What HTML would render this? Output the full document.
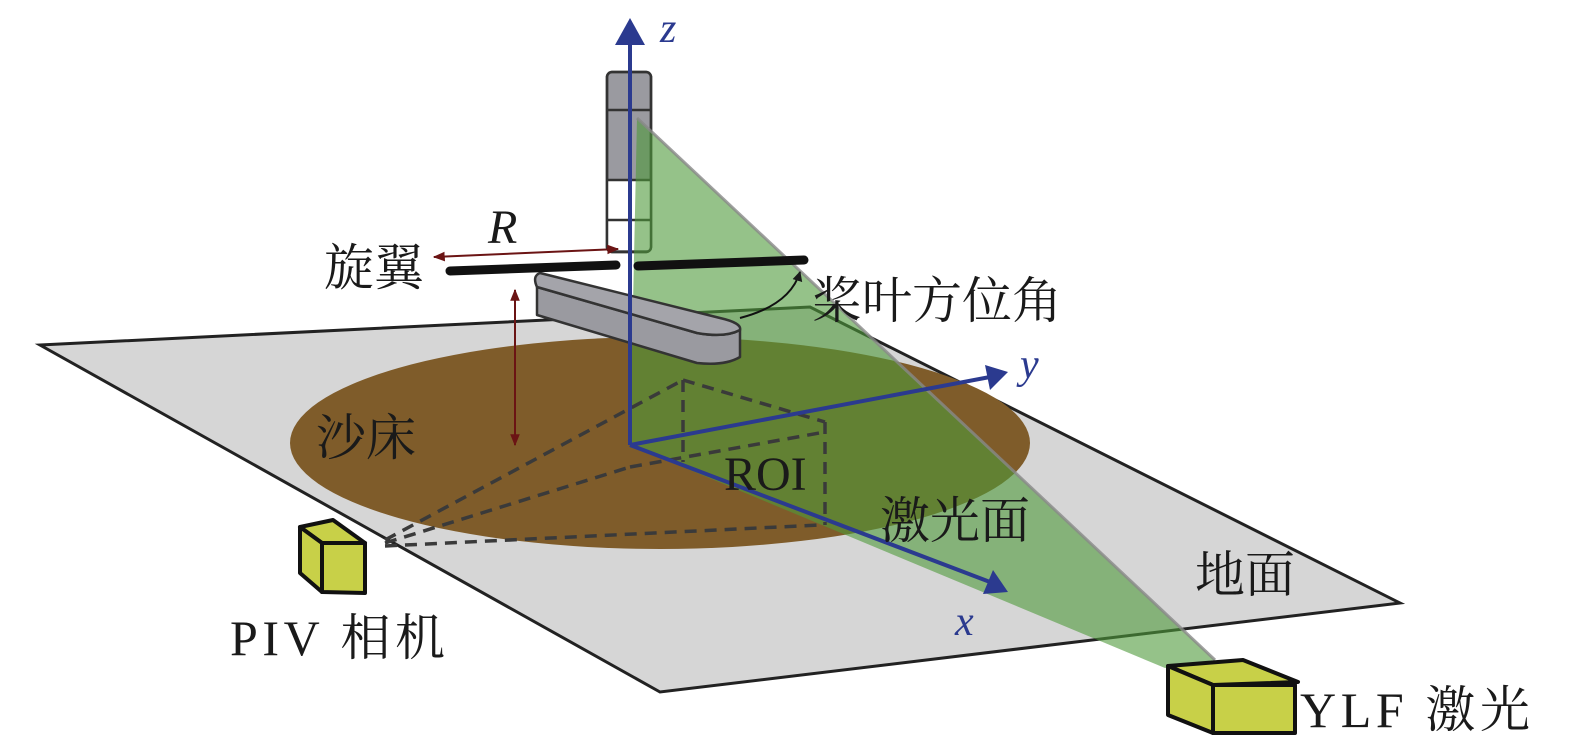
<!DOCTYPE html>
<html><head><meta charset="utf-8"><style>
html,body{margin:0;padding:0;background:#fff;width:1575px;height:738px;overflow:hidden}
text{font-family:"Liberation Serif","Noto Serif CJK SC",serif;fill:#1a1a1a}
</style></head><body>
<svg width="1575" height="738" viewBox="0 0 1575 738" xmlns="http://www.w3.org/2000/svg">
<defs>
<marker id="ar" viewBox="0 0 10 10" refX="9" refY="5" markerWidth="6" markerHeight="6" orient="auto-start-reverse"><path d="M0,1 L10,5 L0,9 z" fill="#6b1414"/></marker>
<marker id="ab" viewBox="0 0 10 10" refX="9" refY="5" markerWidth="5" markerHeight="5" orient="auto"><path d="M0,0 L10,5 L0,10 z" fill="#1a1a1a"/></marker>
</defs>
<polygon points="40,345 810,307 1400,603 660,692" fill="#d6d6d6" stroke="#222" stroke-width="3"/>
<ellipse cx="660" cy="443" rx="370" ry="106" fill="#7f5c2a"/>
<rect x="607" y="72" width="44" height="180" rx="5" fill="#9a9aa0" stroke="#333" stroke-width="2.5"/>
<rect x="608" y="180" width="42" height="70" fill="#fff"/>
<rect x="607" y="72" width="44" height="180" rx="5" fill="none" stroke="#333" stroke-width="2.5"/>
<line x1="607" y1="110" x2="651" y2="110" stroke="#333" stroke-width="2.5"/>
<line x1="607" y1="180" x2="651" y2="180" stroke="#333" stroke-width="2.5"/>
<line x1="607" y1="220" x2="651" y2="220" stroke="#333" stroke-width="2.5"/>
<polygon points="637,118 1215,660 1165,668 630,445" fill="#4f9a3a" fill-opacity="0.6"/>
<line x1="637" y1="118" x2="1215" y2="660" stroke="#888" stroke-width="3" stroke-opacity="0.8"/>
<g stroke="#3a3a3a" stroke-width="3.5" stroke-dasharray="12,8" fill="none">
<line x1="385" y1="540" x2="683" y2="380"/>
<line x1="385" y1="543" x2="630" y2="467"/>
<line x1="630" y1="467" x2="825" y2="432"/>
<line x1="385" y1="546" x2="820" y2="525"/>
<line x1="683" y1="380" x2="825" y2="422"/>
<line x1="683" y1="380" x2="683" y2="462"/>
<line x1="825" y1="422" x2="825" y2="525"/>
</g>
<path d="M537,287 L697,333 Q725,338 740,330 L740,357 Q725,366 697,363 L537,315 Z" fill="#9a9aa0" stroke="#333" stroke-width="2.5" stroke-linejoin="round"/>
<path d="M540,273 L720,318 Q742,323 740,330 Q725,338 697,333 L537,287 Q532,276 540,273 Z" fill="#a4a4aa" stroke="#333" stroke-width="2.5" stroke-linejoin="round"/>
<line x1="450" y1="271" x2="616" y2="265" stroke="#111" stroke-width="9" stroke-linecap="round"/>
<line x1="638" y1="266" x2="804" y2="260" stroke="#111" stroke-width="9" stroke-linecap="round"/>
<path d="M740,318 Q790,305 800,272" fill="none" stroke="#111" stroke-width="2" marker-end="url(#ab)"/>
<line x1="434" y1="257" x2="618" y2="249" stroke="#6b1414" stroke-width="2" marker-start="url(#ar)" marker-end="url(#ar)"/>
<line x1="515" y1="290" x2="515" y2="445" stroke="#6b1414" stroke-width="2" marker-start="url(#ar)" marker-end="url(#ar)"/>
<g stroke="#2b3a8f" stroke-width="4" fill="#2b3a8f">
<line x1="630" y1="445" x2="630" y2="40"/>
<polygon points="615,45 645,45 630,18" stroke="none"/>
<line x1="630" y1="445" x2="990" y2="377"/>
<polygon points="985,365 1008,372 990,390" stroke="none"/>
<line x1="630" y1="445" x2="990" y2="582"/>
<polygon points="993,570 1008,592 983,594" stroke="none"/>
</g>
<g stroke="#111" stroke-width="4" stroke-linejoin="round" fill="#c8d048">
<polygon points="300,527 333,520 365,543 322,543"/>
<polygon points="300,527 322,543 322,592 300,573"/>
<polygon points="322,543 365,543 365,593 322,592"/>
<polygon points="1168,666 1243,660 1298,682 1213,685"/>
<polygon points="1168,666 1213,685 1213,733 1168,715"/>
<polygon points="1213,685 1295,685 1295,733 1213,733"/>
</g>
<text x="324" y="285" font-size="50">旋翼</text>
<text x="488" y="243" font-size="48" font-style="italic">R</text>
<text x="812" y="318" font-size="50">桨叶方位角</text>
<text x="316" y="455" font-size="50">沙床</text>
<text x="724" y="490" font-size="48">ROI</text>
<text x="880" y="538" font-size="50">激光面</text>
<text x="1195" y="592" font-size="50">地面</text>
<text x="230" y="655" font-size="50" textLength="215">PIV 相机</text>
<text x="1300" y="727" font-size="50" textLength="230">YLF 激光</text>
<text x="955" y="635" font-size="42" font-style="italic" style="fill:#2b3a8f">x</text>
<text x="1020" y="378" font-size="42" font-style="italic" style="fill:#2b3a8f">y</text>
<text x="660" y="42" font-size="42" font-style="italic" style="fill:#2b3a8f">z</text>
</svg>
</body></html>
